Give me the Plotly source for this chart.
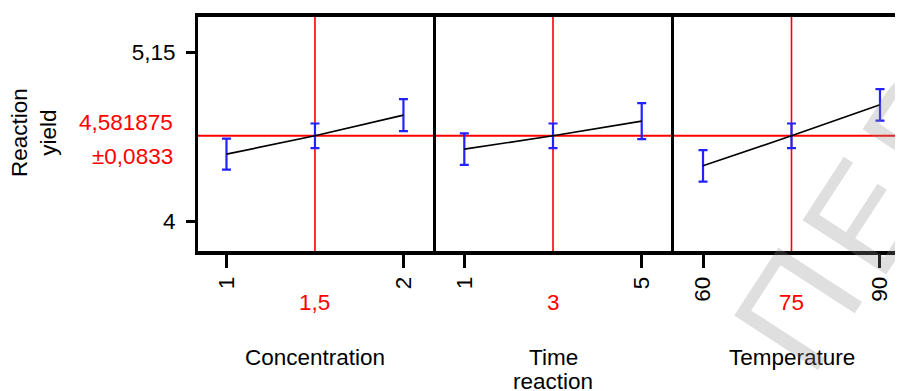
import plotly.graph_objects as go

# ---------------- data ----------------
predicted = 4.581875
pred_label = "4,581875"
ci_label = "±0,0833"

factor_titles = [["Concentration"], ["Time", "reaction"], ["Temperature"]]

conc_x = [1, 1.5, 2]
conc_y = [4.457, 4.581875, 4.722]
conc_err = [0.105, 0.0833, 0.109]

time_x = [1, 3, 5]
time_y = [4.491, 4.581875, 4.681]
time_err = [0.107, 0.0833, 0.122]

temp_x = [60, 75, 90]
temp_y = [4.378, 4.581875, 4.792]
temp_err = [0.107, 0.0833, 0.107]

center_labels = ["1,5", "3", "75"]
end_tickvals = [[1, 2], [1, 5], [60, 90]]
end_ticktext = [["1", "2"], ["1", "5"], ["60", "90"]]

y_tickvals = [4, 5.15]
y_ticktext = ["4", "5,15"]
y_title = "Reaction<br>yield"

watermark_letters = ["О", "П", "Е", "Р"]

# ---------------- geometry (window pixels; page body has an 8px margin) ----------------
OFF = 8
WIN_W, WIN_H = 903, 391
W, H = WIN_W - OFF, WIN_H - OFF
PLOT_L, PLOT_T, PLOT_B = 198, 17, 251
ML = PLOT_L - OFF
MT = PLOT_T - OFF
MB = H - (PLOT_B - OFF)
PW = W - ML
PH = PLOT_B - PLOT_T
FONT = "Arial, Liberation Sans, sans-serif"
FS = 22.5
BLUE = "#2222ff"

xs = [conc_x, time_x, temp_x]
ys = [conc_y, time_y, temp_y]
errs = [conc_err, time_err, temp_err]


def paper_y(pix):
    return (PLOT_B - pix) / PH


def paper_x(pix):
    return (pix - PLOT_L) / PW


b1 = paper_x(436)
b2 = paper_x(674)
domains = [[0, b1], [b1, b2], [b2, 1]]
x_ranges = [[0.839, 2.184], [0.362, 5.728], [55.08, 93.90]]
y_range = [3.7995, 5.3881]

fig = go.Figure()
for i in range(3):
    xa = "x" if i == 0 else f"x{i+1}"
    ya = "y" if i == 0 else f"y{i+1}"
    fig.add_trace(go.Scatter(
        x=xs[i], y=ys[i], mode="lines", xaxis=xa, yaxis=ya,
        line=dict(color="black", width=1.7),
        error_y=dict(type="data", array=errs[i], color=BLUE, thickness=2.2, width=4.5),
        showlegend=False, hoverinfo="skip",
    ))

layout = dict(
    width=W, height=H,
    margin=dict(l=ML, r=0, t=MT, b=MB, pad=0),
    paper_bgcolor="white", plot_bgcolor="white",
    font=dict(family=FONT, size=FS, color="black"),
    showlegend=False,
)
for i in range(3):
    xkey = "xaxis" if i == 0 else f"xaxis{i+1}"
    ykey = "yaxis" if i == 0 else f"yaxis{i+1}"
    layout[xkey] = dict(
        domain=domains[i], range=x_ranges[i], anchor="y" if i == 0 else f"y{i+1}",
        showgrid=False, zeroline=False,
        showline=True, mirror=True, linecolor="black", linewidth=3.5,
        tickvals=end_tickvals[i], ticktext=end_ticktext[i],
        ticks="outside", ticklen=13, tickwidth=2.5, tickcolor="black",
        tickangle=-90, tickfont=dict(size=FS, color="black", family=FONT),
    )
    ydict = dict(
        domain=[0, 1], range=y_range, anchor="x" if i == 0 else f"x{i+1}",
        showgrid=False, zeroline=False,
        showline=True, linecolor="black",
    )
    if i == 0:
        ydict.update(linewidth=3, tickvals=y_tickvals, ticktext=y_ticktext,
                     ticks="outside", ticklen=9, tickwidth=2.5, tickcolor="black",
                     tickfont=dict(size=FS, color="black", family=FONT),
                     ticklabelstandoff=6)
    else:
        ydict.update(linewidth=2.5, showticklabels=False, ticks="")
    layout[ykey] = ydict
fig.update_layout(**layout)

shapes = []
for i in range(3):
    xa = "x" if i == 0 else f"x{i+1}"
    ya = "y" if i == 0 else f"y{i+1}"
    shapes.append(dict(type="line", xref=xa, yref=f"{ya} domain",
                       x0=xs[i][1], x1=xs[i][1], y0=0, y1=1,
                       line=dict(color="red", width=1.6), layer="below"))
shapes.append(dict(type="line", xref="paper", yref="y", x0=0, x1=1,
                   y0=predicted, y1=predicted,
                   line=dict(color="red", width=2), layer="below"))
fig.update_layout(shapes=shapes)

ann = []
title_rows = [357, 381]
for i in range(3):
    xa = "x" if i == 0 else f"x{i+1}"
    ann.append(dict(x=xs[i][1], xref=xa, y=paper_y(302), yref="paper",
                    text=center_labels[i], showarrow=False,
                    font=dict(size=FS, color="red", family=FONT),
                    xanchor="center", yanchor="middle"))
    for j, line in enumerate(factor_titles[i]):
        ann.append(dict(x=xs[i][1], xref=xa, y=paper_y(title_rows[j]), yref="paper",
                        text=line, showarrow=False,
                        font=dict(size=FS, color="black", family=FONT),
                        xanchor="center", yanchor="middle"))

ann.append(dict(x=0, xref="paper", xshift=175 - PLOT_L, y=paper_y(123), yref="paper",
                text=pred_label, showarrow=False,
                font=dict(size=FS, color="red", family=FONT),
                xanchor="right", yanchor="middle"))
ann.append(dict(x=0, xref="paper", xshift=175 - PLOT_L, y=paper_y(156), yref="paper",
                text=ci_label, showarrow=False,
                font=dict(size=FS, color="red", family=FONT),
                xanchor="right", yanchor="middle"))
ann.append(dict(x=0, xref="paper", xshift=34 - PLOT_L, y=paper_y(133), yref="paper",
                text=y_title, showarrow=False, textangle=-90,
                font=dict(size=FS, color="black", family=FONT),
                xanchor="center", yanchor="middle"))

# watermark (light, semi-transparent, rotated)
wm_pos = [(712, 446), (798, 309), (864, 217), (924, 126)]
for letter, (px_, py_) in zip(watermark_letters, wm_pos):
    ann.append(dict(x=paper_x(px_), xref="paper", y=paper_y(py_), yref="paper",
                    text=letter, showarrow=False, textangle=-57,
                    font=dict(size=145, color="rgba(140,140,140,0.28)", family=FONT),
                    xanchor="center", yanchor="middle"))

fig.update_layout(annotations=ann)

fig.write_html("out.html")
